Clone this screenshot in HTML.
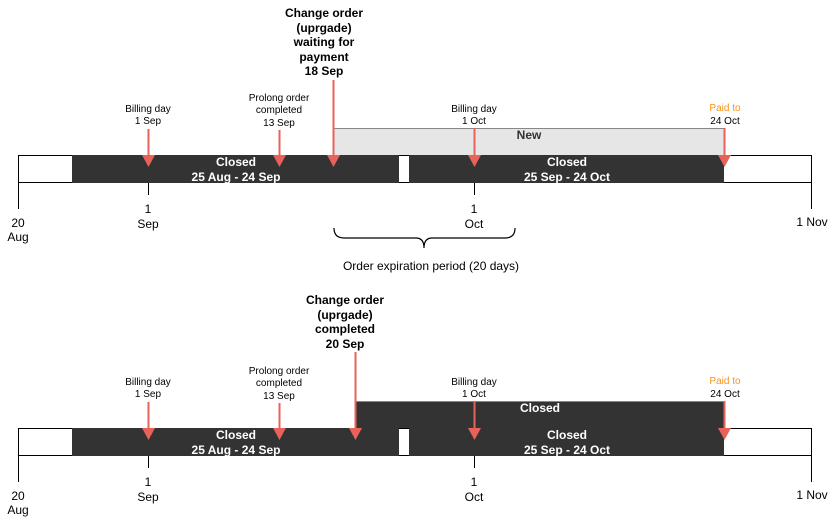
<!DOCTYPE html>
<html><head><meta charset="utf-8"><style>
html,body{margin:0;padding:0;background:#fff;}
svg{display:block;font-family:"Liberation Sans",Arial,sans-serif;}
</style></head><body>
<svg width="835" height="525" viewBox="0 0 835 525" xmlns="http://www.w3.org/2000/svg">
<defs>
<g id="tl">
  <rect x="18.5" y="155.5" width="793" height="27" fill="#fff" stroke="#000" stroke-width="1"/>
  <rect x="72" y="155" width="327" height="28" fill="#333"/>
  <rect x="409" y="155" width="315" height="28" fill="#333"/>
  <text x="236" y="166" font-size="12" font-weight="bold" fill="#fff" text-anchor="middle">Closed</text>
  <text x="236" y="181" font-size="12" font-weight="bold" fill="#fff" text-anchor="middle">25 Aug - 24 Sep</text>
  <text x="567" y="166" font-size="12" font-weight="bold" fill="#fff" text-anchor="middle">Closed</text>
  <text x="567" y="181" font-size="12" font-weight="bold" fill="#fff" text-anchor="middle">25 Sep - 24 Oct</text>
  <line x1="18.5" y1="183" x2="18.5" y2="209" stroke="#000"/>
  <line x1="148.5" y1="183" x2="148.5" y2="195" stroke="#000"/>
  <line x1="474.5" y1="183" x2="474.5" y2="195" stroke="#000"/>
  <line x1="811.5" y1="183" x2="811.5" y2="209" stroke="#000"/>
  <text x="18" y="227" font-size="12" text-anchor="middle">20</text>
  <text x="18" y="241" font-size="12" text-anchor="middle">Aug</text>
  <text x="148" y="213" font-size="12" text-anchor="middle">1</text>
  <text x="148" y="228" font-size="12" text-anchor="middle">Sep</text>
  <text x="474" y="213" font-size="12" text-anchor="middle">1</text>
  <text x="474" y="228" font-size="12" text-anchor="middle">Oct</text>
  <text x="812" y="226" font-size="12" text-anchor="middle">1 Nov</text>
  <text x="148" y="112" font-size="10" text-anchor="middle">Billing day</text>
  <text x="148" y="124" font-size="10" text-anchor="middle">1 Sep</text>
  <text x="279" y="101" font-size="10" text-anchor="middle">Prolong order</text>
  <text x="279" y="113" font-size="10" text-anchor="middle">completed</text>
  <text x="279" y="126" font-size="10" text-anchor="middle">13 Sep</text>
  <text x="474" y="112" font-size="10" text-anchor="middle">Billing day</text>
  <text x="474" y="124" font-size="10" text-anchor="middle">1 Oct</text>
  <text x="725" y="111" font-size="10" text-anchor="middle" fill="#f7941d">Paid to</text>
  <text x="725" y="124" font-size="10" text-anchor="middle">24 Oct</text>
  <g stroke="#e8615a" stroke-width="2">
    <line x1="148.5" y1="129" x2="148.5" y2="157"/>
    <line x1="279.5" y1="130" x2="279.5" y2="157"/>
    <line x1="474.5" y1="128" x2="474.5" y2="157"/>
    <line x1="724.5" y1="128" x2="724.5" y2="157"/>
  </g>
  <g fill="#e8615a">
    <polygon points="142,155 155,155 148.5,167"/>
    <polygon points="273,155 286,155 279.5,167"/>
    <polygon points="468,155 481,155 474.5,167"/>
    <polygon points="718,155 731,155 724.5,167"/>
  </g>
</g>
</defs>

<!-- Top -->
<rect x="333.5" y="128.5" width="391" height="27" fill="#e6e6e6" stroke="#888" stroke-width="1"/>
<text x="529" y="139" font-size="12" font-weight="bold" fill="#333" text-anchor="middle">New</text>
<use href="#tl"/>
<line x1="333.5" y1="80" x2="333.5" y2="157" stroke="#e8615a" stroke-width="2"/>
<polygon points="327,155 340,155 333.5,167" fill="#e8615a"/>
<g font-size="12" font-weight="bold" text-anchor="middle">
<text x="324" y="17">Change order</text>
<text x="324" y="32">(uprgade)</text>
<text x="324" y="46">waiting for</text>
<text x="324" y="61">payment</text>
<text x="324" y="75">18 Sep</text>
</g>
<path d="M334,228 Q334,238 344,238 L416,238 Q424,238 424,248 Q424,238 432,238 L505,238 Q515,238 515,228" fill="none" stroke="#000" stroke-width="1.2"/>
<text x="431" y="270" font-size="12" text-anchor="middle">Order expiration period (20 days)</text>

<!-- Bottom -->
<rect x="355" y="401" width="369" height="27" fill="#333"/>
<line x1="355" y1="401.5" x2="724" y2="401.5" stroke="#888"/>
<text x="540" y="412" font-size="12" font-weight="bold" fill="#fff" text-anchor="middle">Closed</text>
<use href="#tl" y="273"/>
<line x1="355.5" y1="352" x2="355.5" y2="430" stroke="#e8615a" stroke-width="2"/>
<polygon points="349,428 362,428 355.5,440" fill="#e8615a"/>
<g font-size="12" font-weight="bold" text-anchor="middle">
<text x="345" y="304">Change order</text>
<text x="345" y="319">(uprgade)</text>
<text x="345" y="333">completed</text>
<text x="345" y="348">20 Sep</text>
</g>
</svg>
</body></html>
